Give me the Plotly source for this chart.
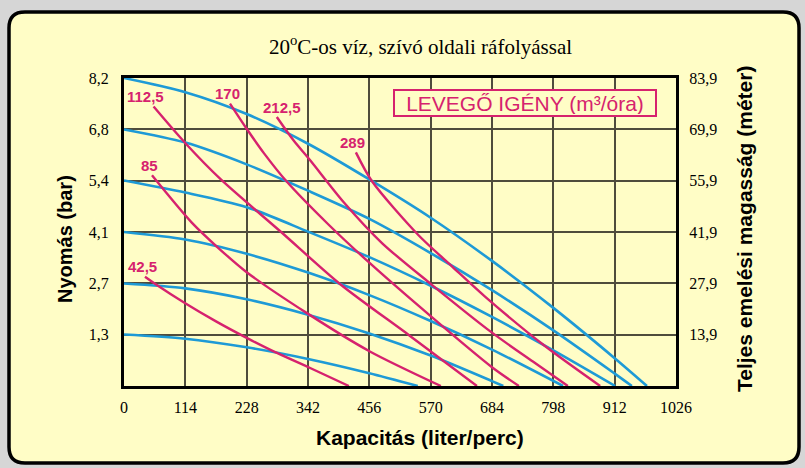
import plotly.graph_objects as go

# ---------------- data ----------------
X_TICKS = [0, 114, 228, 342, 456, 570, 684, 798, 912, 1026]
Y_LEFT_LABELS = ["1,3", "2,7", "4,1", "5,4", "6,8", "8,2"]
Y_RIGHT_LABELS = ["13,9", "27,9", "41,9", "55,9", "69,9", "83,9"]
Y_MAX = 8.2
Y2_MAX = 83.9
X_MAX = 1026

# pump curves (blue) - pressure in bar vs capacity
P82_X = [0, 114, 228, 342, 456, 570, 684, 798, 912, 972]
P82_Y = [8.2, 7.82, 7.24, 6.45, 5.5, 4.48, 3.33, 2.08, 0.74, 0]
P68_X = [0, 114, 228, 342, 456, 570, 684, 798, 912, 944]
P68_Y = [6.83, 6.48, 5.9, 5.2, 4.45, 3.54, 2.55, 1.48, 0.33, 0]
P54_X = [0, 114, 228, 342, 456, 570, 684, 798, 913]
P54_Y = [5.47, 5.15, 4.76, 4.11, 3.43, 2.67, 1.84, 0.95, 0]
P41_X = [0, 114, 228, 342, 456, 570, 684, 816]
P41_Y = [4.1, 3.9, 3.52, 3.02, 2.42, 1.73, 0.97, 0]
P27_X = [0, 114, 228, 342, 456, 570, 684, 705]
P27_Y = [2.73, 2.6, 2.31, 1.9, 1.4, 0.81, 0.13, 0]
P13_X = [0, 114, 228, 342, 456, 546]
P13_Y = [1.37, 1.26, 1.03, 0.72, 0.34, 0]

# air consumption curves (magenta)
A425_X = [39, 61, 113, 171, 228, 278, 346, 418]
A425_Y = [2.91, 2.69, 2.21, 1.72, 1.28, 0.92, 0.48, 0]
A85_X = [52, 126, 175, 228, 340, 457, 589]
A85_Y = [5.61, 4.35, 3.68, 3.03, 1.94, 0.92, 0]
A1125_X = [55, 115, 180, 292, 402, 531, 656]
A1125_Y = [7.44, 6.45, 5.5, 4.1, 2.71, 1.34, 0]
A170_X = [197, 228, 260, 302, 380, 457, 570, 684, 734]
A170_Y = [7.52, 6.85, 6.2, 5.45, 4.3, 3.27, 1.86, 0.5, 0]
A2125_X = [284, 315, 346, 408, 480, 570, 684, 760, 825]
A2125_Y = [7.16, 6.54, 6.01, 4.9, 3.8, 2.72, 1.42, 0.65, 0]
A289_X = [431, 461, 547, 610, 671, 780, 885]
A289_Y = [6.22, 5.45, 4.02, 3.18, 2.38, 1.09, 0]
AIR_LABELS = ["42,5", "85", "112,5", "170", "212,5", "289"]

TITLE = "20<sup>o</sup>C-os víz, szívó oldali ráfolyással"
X_TITLE = "Kapacitás (liter/perc)"
Y_TITLE = "Nyomás (bar)"
Y2_TITLE = "Teljes emelési magasság (méter)"
LEGEND_TEXT = "LEVEGŐ IGÉNY (m³/óra)"

# ---------------- style ----------------
BLUE = "#1E9AD6"
PINK = "#D6226E"
PANEL = "#FFFDC6"
GRID = "#4f4c3c"
W, H = 805, 468
ML, MR, MT, MB = 124, 129, 78, 82
PW, PH = W - ML - MR, H - MT - MB

def px_x(p):
    return (p - ML) / PW

def px_y(p):
    return (H - MB - p) / PH

fig = go.Figure()

blue = [(P82_X, P82_Y), (P68_X, P68_Y), (P54_X, P54_Y),
        (P41_X, P41_Y), (P27_X, P27_Y), (P13_X, P13_Y)]
for xs, ys in blue:
    fig.add_trace(go.Scatter(x=xs, y=ys, mode="lines",
                             line=dict(color=BLUE, width=2.6, shape="spline", smoothing=0.8),
                             hoverinfo="skip", showlegend=False))

red = [(A425_X, A425_Y), (A85_X, A85_Y), (A1125_X, A1125_Y),
       (A170_X, A170_Y), (A2125_X, A2125_Y), (A289_X, A289_Y)]
label_xshift = [-2, -2, -8, -2, 5, -3]
for (xs, ys), lab, dx in zip(red, AIR_LABELS, label_xshift):
    fig.add_trace(go.Scatter(x=xs, y=ys, mode="lines",
                             line=dict(color=PINK, width=2.4, shape="spline", smoothing=0.8),
                             hoverinfo="skip", showlegend=False))
    fig.add_annotation(x=xs[0], y=ys[0], xref="x", yref="y", text="<b>%s</b>" % lab,
                       showarrow=False, xshift=dx, yshift=10,
                       xanchor="center", yanchor="middle",
                       font=dict(family="Liberation Sans", size=15, color=PINK))

# invisible trace for the right axis
fig.add_trace(go.Scatter(x=[0, X_MAX], y=[0, Y2_MAX], yaxis="y2", mode="lines",
                         line=dict(width=0, color="rgba(0,0,0,0)"),
                         hoverinfo="skip", showlegend=False))

ytickvals = [Y_MAX * i / 6 for i in range(1, 7)]
y2tickvals = [Y2_MAX * i / 6 for i in range(1, 7)]
tickfont = dict(family="Liberation Serif", size=16, color="black")

fig.update_layout(
    width=W, height=H,
    margin=dict(l=ML, r=MR, t=MT, b=MB),
    paper_bgcolor="#d6d6d6",
    plot_bgcolor="rgba(0,0,0,0)",
    xaxis=dict(range=[0, X_MAX], tickvals=X_TICKS, ticktext=[str(v) for v in X_TICKS],
               showgrid=True, gridcolor=GRID, gridwidth=1.6, zeroline=False,
               showline=True, linecolor="black", linewidth=3, mirror=True,
               ticks="outside", ticklen=5, tickcolor="rgba(0,0,0,0)", tickfont=tickfont,
               fixedrange=True),
    yaxis=dict(range=[0, Y_MAX], tickvals=ytickvals, ticktext=Y_LEFT_LABELS,
               showgrid=True, gridcolor=GRID, gridwidth=1.6, zeroline=False,
               showline=True, linecolor="black", linewidth=3, mirror=True,
               ticks="outside", ticklen=9, tickcolor="rgba(0,0,0,0)", tickfont=tickfont,
               fixedrange=True),
    yaxis2=dict(range=[0, Y2_MAX], tickvals=y2tickvals, ticktext=Y_RIGHT_LABELS,
                overlaying="y", side="right", showgrid=False, zeroline=False,
                ticks="outside", ticklen=9, tickcolor="rgba(0,0,0,0)", tickfont=tickfont,
                fixedrange=True),
)

# rounded panel
x0, x1 = px_x(9), px_x(799)
y0, y1 = px_y(463), px_y(12)
rx, ry = 16 / PW, 16 / PH
path = (f"M {x0+rx},{y1} L {x1-rx},{y1} Q {x1},{y1} {x1},{y1-ry} "
        f"L {x1},{y0+ry} Q {x1},{y0} {x1-rx},{y0} L {x0+rx},{y0} "
        f"Q {x0},{y0} {x0},{y0+ry} L {x0},{y1-ry} Q {x0},{y1} {x0+rx},{y1} Z")
fig.add_shape(type="path", path=path, xref="paper", yref="paper",
              fillcolor=PANEL, line=dict(color="black", width=3.5), layer="below")

# title & axis titles
common = dict(xref="paper", yref="paper", showarrow=False, xanchor="center", yanchor="middle")
fig.add_annotation(x=px_x(420), y=px_y(46), text=TITLE,
                   font=dict(family="Liberation Serif", size=21, color="black"), **common)
fig.add_annotation(x=px_x(420), y=px_y(437), text="<b>%s</b>" % X_TITLE,
                   font=dict(family="Liberation Sans", size=21, color="black"), **common)
fig.add_annotation(x=px_x(65), y=px_y(239), text="<b>%s</b>" % Y_TITLE, textangle=-90,
                   font=dict(family="Liberation Sans", size=20, color="black"), **common)
fig.add_annotation(x=px_x(744), y=px_y(229), text="<b>%s</b>" % Y2_TITLE, textangle=-90,
                   font=dict(family="Liberation Sans", size=21, color="black"), **common)

# legend box
fig.add_annotation(x=px_x(525), y=px_y(102.7), text=LEGEND_TEXT,
                   width=258, height=22, bordercolor=PINK, borderwidth=2,
                   borderpad=1, bgcolor=PANEL,
                   font=dict(family="Liberation Sans", size=21, color=PINK), **common)

fig.write_html("out.html", config={"displayModeBar": False},
               post_script="document.body.style.margin='0';")
